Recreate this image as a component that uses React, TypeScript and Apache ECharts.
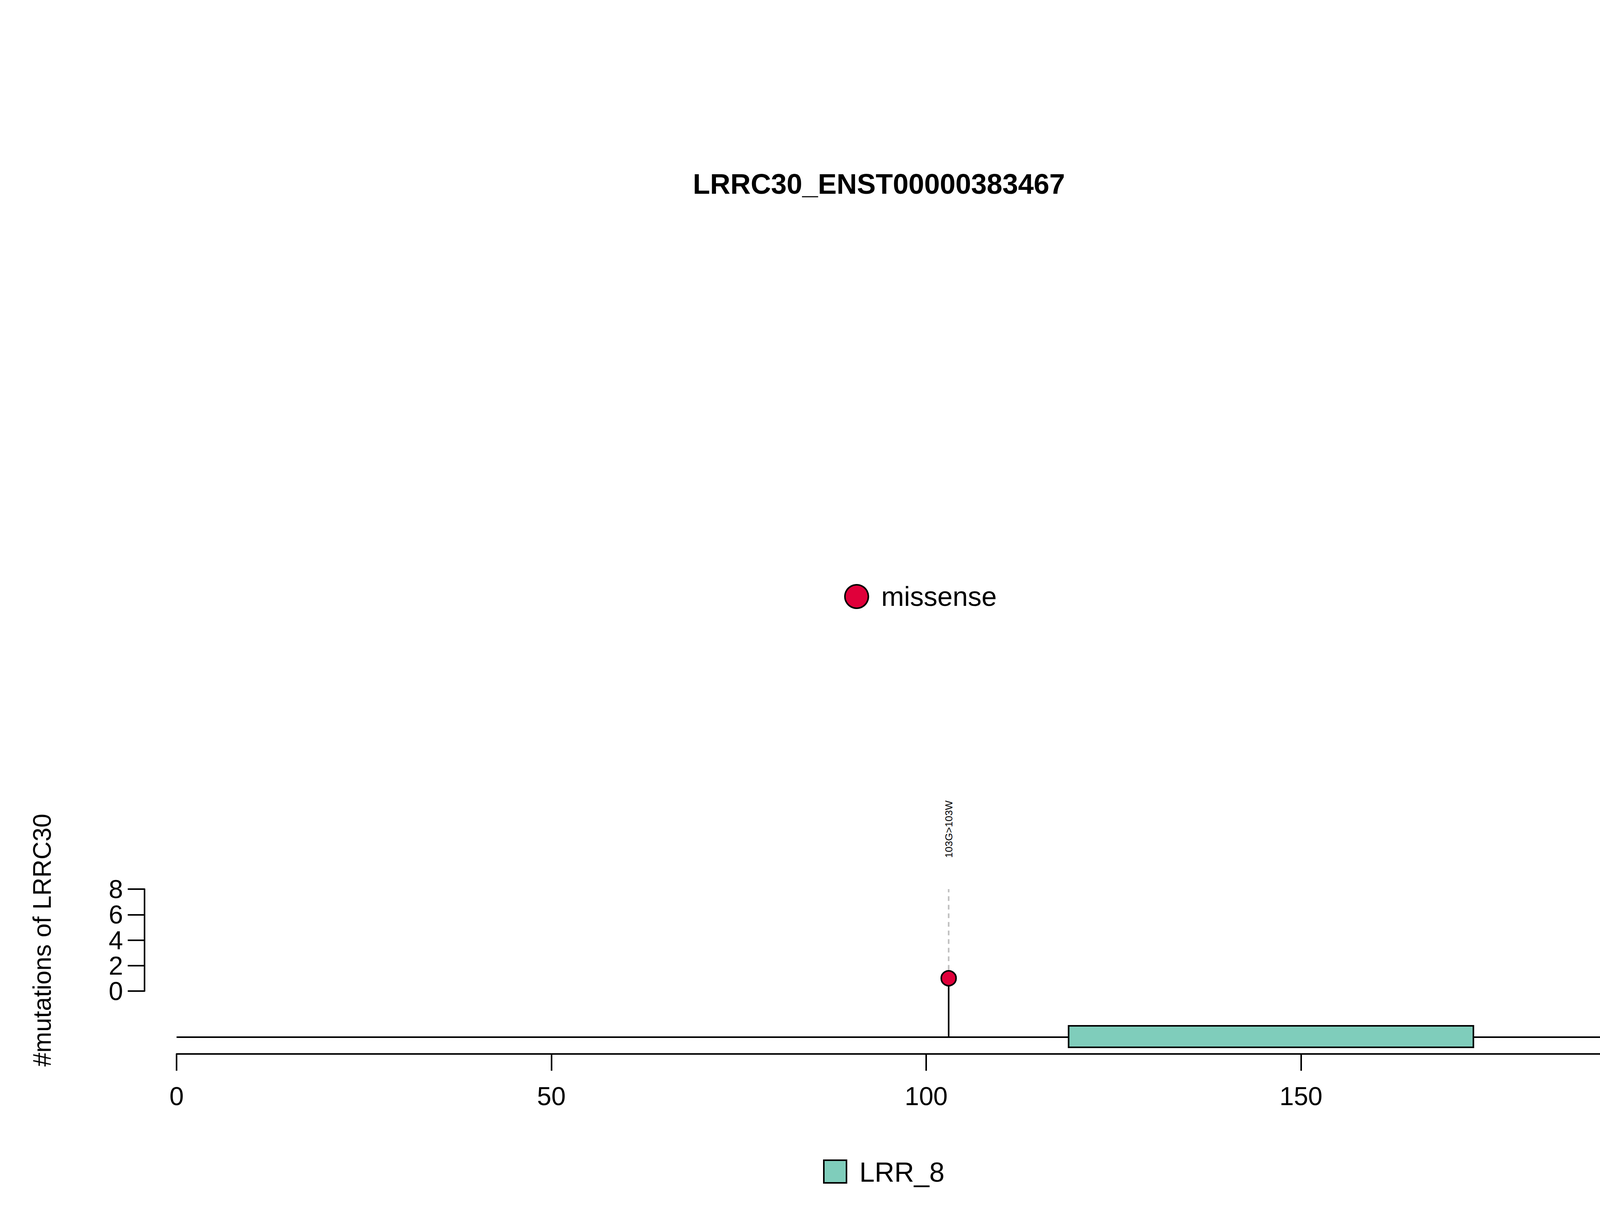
import React, { useEffect, useRef } from "react";
import * as echarts from "echarts";

const title = "LRRC30_ENST00000383467";
const proteinLength = 200;
const xTicks = [0, 50, 100, 150, 200];
const yTicks = [0, 2, 4, 6, 8];
const mutPos = [103];
const mutCount = [1];
const mutLabel = ["103G>103W"];
const domainNames = ["LRR_8"];
const domainStart = [119];
const domainEnd = [173];
const domainColor = ["#7fcdbb"];
const mutType = "missense";
const mutColor = "#e0003a";

const Y_MIN = -4.94;
const BACKBONE = -3.62;
const DOM_TOP = -2.73;
const DOM_BOT = -4.42;

export default function App() {
  const ref = useRef<HTMLDivElement>(null);
  useEffect(() => {
    document.body.style.margin = "0";
    const chart = echarts.init(ref.current!, null, { renderer: "svg" });
    const font = "Liberation Sans, Arial, sans-serif";
    chart.setOption({
      animation: false,
      backgroundColor: "#fff",
      title: {
        text: title, left: "center", top: 430,
        textStyle: { fontFamily: font, fontSize: 72, fontWeight: "bold", color: "#000" },
      },
      grid: [
        { left: 452, right: 210, top: 2276, height: 422 },
        { left: 370, width: 10, top: 2276, height: 261 },
      ],
      xAxis: [
        {
          gridIndex: 0, type: "value", min: 0, max: proteinLength, interval: 50,
          position: "bottom",
          axisLine: { show: true, onZero: false, lineStyle: { color: "#000", width: 4 } },
          axisTick: { show: true, length: 43, lineStyle: { color: "#000", width: 4 } },
          axisLabel: { fontFamily: font, fontSize: 66, color: "#000", margin: 75 },
          splitLine: { show: false },
        },
        { gridIndex: 1, type: "value", min: 0, max: 1, show: false },
      ],
      yAxis: [
        { gridIndex: 0, type: "value", min: Y_MIN, max: 8, show: false, splitLine: { show: false } },
        {
          gridIndex: 1, type: "value", min: 0, max: 8, interval: 2, position: "left",
          axisLine: { show: true, onZero: false, lineStyle: { color: "#000", width: 4 } },
          axisTick: { show: true, length: 43, lineStyle: { color: "#000", width: 4 } },
          axisLabel: { show: false },
          splitLine: { show: false },
          name: "#mutations of LRRC30", nameLocation: "middle", nameGap: 230,
          nameTextStyle: { fontFamily: font, fontSize: 64, color: "#000" },
        },
      ],
      series: [
        {
          type: "custom", xAxisIndex: 1, yAxisIndex: 1,
          data: yTicks.map((t) => [0, t]),
          renderItem: (p: any, api: any) => {
            const c = api.coord([0, api.value(1)]);
            return {
              type: "text", x: c[0] - 55, y: c[1],
              style: { text: String(api.value(1)), fontFamily: font, fontSize: 66, fill: "#000", align: "right", verticalAlign: "middle" },
            };
          },
        },
        {
          type: "custom", xAxisIndex: 0, yAxisIndex: 0,
          data: [[0, proteinLength]],
          renderItem: (p: any, api: any) => {
            const a = api.coord([0, BACKBONE]);
            const b = api.coord([proteinLength, BACKBONE]);
            return { type: "line", shape: { x1: a[0], y1: a[1], x2: b[0], y2: b[1] }, style: { stroke: "#000", lineWidth: 4 } };
          },
        },
        {
          type: "custom", xAxisIndex: 0, yAxisIndex: 0,
          data: mutPos.map((p, i) => [p, mutCount[i]]),
          renderItem: (p: any, api: any) => {
            const x = api.value(0), v = api.value(1);
            const b = api.coord([x, BACKBONE]);
            const c = api.coord([x, v]);
            const t = api.coord([x, 8]);
            return {
              type: "group",
              children: [
                { type: "line", shape: { x1: b[0], y1: b[1], x2: c[0], y2: c[1] }, style: { stroke: "#000", lineWidth: 4 } },
                { type: "line", shape: { x1: c[0], y1: c[1], x2: t[0], y2: t[1] }, style: { stroke: "#bebebe", lineWidth: 4, lineDash: [12, 10] } },
                {
                  type: "text", x: t[0], y: t[1] - 80, rotation: Math.PI / 2,
                  style: { text: mutLabel[p.dataIndex], fontFamily: font, fontSize: 26, fill: "#000", align: "left", verticalAlign: "middle" },
                },
              ],
            };
          },
        },
        {
          type: "custom", xAxisIndex: 0, yAxisIndex: 0,
          data: domainStart.map((s, i) => [s, domainEnd[i]]),
          renderItem: (p: any, api: any) => {
            const a = api.coord([api.value(0), DOM_TOP]);
            const b = api.coord([api.value(1), DOM_BOT]);
            return {
              type: "rect", shape: { x: a[0], y: a[1], width: b[0] - a[0], height: b[1] - a[1] },
              style: { fill: domainColor[p.dataIndex], stroke: "#000", lineWidth: 4 },
            };
          },
        },
        {
          type: "scatter", xAxisIndex: 0, yAxisIndex: 0, symbolSize: 38, z: 10,
          data: mutPos.map((p, i) => [p, mutCount[i]]),
          itemStyle: { color: mutColor, opacity: 1, borderColor: "#000", borderWidth: 4 },
        },
      ],
      graphic: [
        { type: "circle", shape: { cx: 2193, cy: 1527, r: 30 }, style: { fill: mutColor, stroke: "#000", lineWidth: 4 } },
        { type: "text", x: 2256, y: 1527, style: { text: mutType, fontFamily: font, fontSize: 70, fill: "#000", verticalAlign: "middle" } },
        { type: "rect", shape: { x: 2109, y: 2970, width: 58, height: 58 }, style: { fill: domainColor[0], stroke: "#000", lineWidth: 4 } },
        { type: "text", x: 2200, y: 3001, style: { text: domainNames[0], fontFamily: font, fontSize: 70, fill: "#000", verticalAlign: "middle" } },
      ],
    });
    return () => chart.dispose();
  }, []);
  return <div ref={ref} style={{ width: 4500, height: 3100 }} />;
}
